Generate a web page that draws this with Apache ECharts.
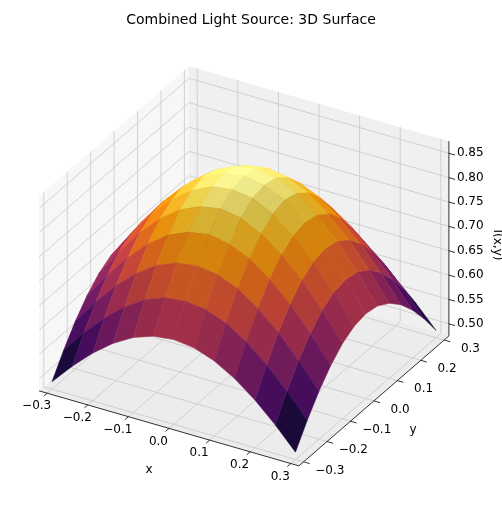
<!DOCTYPE html>
<html><head><meta charset="utf-8">
<script src="https://cdn.jsdelivr.net/npm/echarts@6/dist/echarts.min.js"></script>
<style>html,body{margin:0;padding:0;background:#fff}#c{width:502px;height:506px}</style>
</head><body><div id="c"></div>
<script>
const xs = [-0.3,-0.25,-0.2,-0.15,-0.1,-0.05,0,0.05,0.1,0.15,0.2,0.25,0.3];
const ys = [-0.3,-0.25,-0.2,-0.15,-0.1,-0.05,0,0.05,0.1,0.15,0.2,0.25,0.3];
const zRows = [
[0.490,0.534,0.573,0.605,0.629,0.644,0.649,0.644,0.629,0.605,0.573,0.534,0.490],
[0.534,0.582,0.624,0.659,0.686,0.702,0.707,0.702,0.686,0.659,0.624,0.582,0.534],
[0.573,0.624,0.670,0.707,0.736,0.753,0.759,0.753,0.736,0.707,0.670,0.624,0.573],
[0.605,0.659,0.707,0.747,0.777,0.795,0.802,0.795,0.777,0.747,0.707,0.659,0.605],
[0.629,0.686,0.736,0.777,0.808,0.827,0.834,0.827,0.808,0.777,0.736,0.686,0.629],
[0.644,0.702,0.753,0.795,0.827,0.847,0.853,0.847,0.827,0.795,0.753,0.702,0.644],
[0.649,0.707,0.759,0.802,0.834,0.853,0.860,0.853,0.834,0.802,0.759,0.707,0.649],
[0.644,0.702,0.753,0.795,0.827,0.847,0.853,0.847,0.827,0.795,0.753,0.702,0.644],
[0.629,0.686,0.736,0.777,0.808,0.827,0.834,0.827,0.808,0.777,0.736,0.686,0.629],
[0.605,0.659,0.707,0.747,0.777,0.795,0.802,0.795,0.777,0.747,0.707,0.659,0.605],
[0.573,0.624,0.670,0.707,0.736,0.753,0.759,0.753,0.736,0.707,0.670,0.624,0.573],
[0.534,0.582,0.624,0.659,0.686,0.702,0.707,0.702,0.686,0.659,0.624,0.582,0.534],
[0.490,0.534,0.573,0.605,0.629,0.644,0.649,0.644,0.629,0.605,0.573,0.534,0.490]
];
const xTicks = [-0.3,-0.2,-0.1,0.0,0.1,0.2,0.3];
const yTicks = [-0.3,-0.2,-0.1,0.0,0.1,0.2,0.3];
const zTicks = [0.50,0.55,0.60,0.65,0.70,0.75,0.80,0.85];

const XL=[-0.32,0.32], YL=[-0.32,0.32], ZL=[0.475,0.875];
function norm(x,y,z){return [(x-(XL[0]+XL[1])/2)/(XL[1]-XL[0]),(y-(YL[0]+YL[1])/2)/(YL[1]-YL[0]),(z-(ZL[0]+ZL[1])/2)/(ZL[1]-ZL[0])*0.75];}
function proj(x,y,z){const [u,v,w]=norm(x,y,z);
  return {px:244+300*(0.866*u+0.5*v), py:266-300*(-0.25*u+0.433*v+0.866*w), d:0.433*u-0.75*v+0.5*w};}
const inferno=[[0,0,4],[22,11,57],[66,10,104],[106,23,110],[147,38,103],[188,55,84],[221,81,58],[243,120,25],[252,165,10],[246,215,70],[252,255,164]];
function cmap(t,s){t=Math.max(0,Math.min(1,t));const f=t*10,i=Math.min(9,Math.floor(f)),r=f-i;
  const c=inferno[i].map((a,k)=>Math.round(Math.min(255,(a+(inferno[i+1][k]-a)*r)*s)));return 'rgb('+c.join(',')+')';}

const zmin=0.490,zmax=0.860;
const quads=[];
for(let i=0;i<ys.length-1;i++)for(let j=0;j<xs.length-1;j++){
  const pts=[[xs[j],ys[i],zRows[i][j]],[xs[j+1],ys[i],zRows[i][j+1]],[xs[j+1],ys[i+1],zRows[i+1][j+1]],[xs[j],ys[i+1],zRows[i+1][j]]];
  const zm=(pts[0][2]+pts[1][2]+pts[2][2]+pts[3][2])/4;
  const a=norm(...pts[0]),b=norm(...pts[2]),c=norm(...pts[1]),e=norm(...pts[3]);
  const d1=[b[0]-a[0],b[1]-a[1],b[2]-a[2]],d2=[e[0]-c[0],e[1]-c[1],e[2]-c[2]];
  let n=[d1[1]*d2[2]-d1[2]*d2[1],d1[2]*d2[0]-d1[0]*d2[2],d1[0]*d2[1]-d1[1]*d2[0]];
  const nl=Math.hypot(...n);n=n.map(q=>q/nl);if(n[2]<0)n=n.map(q=>-q);
  const L=[-0.5,0.5,0.707];const dot=n[0]*L[0]+n[1]*L[1]+n[2]*L[2];
  const shade=Math.min(1.08,Math.max(0.85,1.0+0.35*(dot-0.7)));
  const depth=pts.reduce((s,p)=>s+proj(...p).d,0)/4;
  quads.push({pts,zm,shade,depth});
}
quads.sort((a,b)=>a.depth-b.depth);
const surfData=quads.map((q,k)=>[k]);

function poly(api,pts3,style){return {type:'polygon',shape:{points:pts3.map(p=>{const r=proj(...p);return api.coord([r.px,r.py]);})},style};}
function line(api,a,b,style){const p=proj(...a),q=proj(...b);const A=api.coord([p.px,p.py]),B=api.coord([q.px,q.py]);
  return {type:'line',shape:{x1:A[0],y1:A[1],x2:B[0],y2:B[1]},style};}

const gridStyle={stroke:'#c8c8c8',lineWidth:0.8};
function renderBox(params,api){
  const ch=[];
  ch.push(poly(api,[[XL[0],YL[0],ZL[0]],[XL[0],YL[1],ZL[0]],[XL[0],YL[1],ZL[1]],[XL[0],YL[0],ZL[1]]],{fill:'#f7f7f7'}));
  ch.push(poly(api,[[XL[0],YL[1],ZL[0]],[XL[1],YL[1],ZL[0]],[XL[1],YL[1],ZL[1]],[XL[0],YL[1],ZL[1]]],{fill:'#f0f0f0'}));
  ch.push(poly(api,[[XL[0],YL[0],ZL[0]],[XL[1],YL[0],ZL[0]],[XL[1],YL[1],ZL[0]],[XL[0],YL[1],ZL[0]]],{fill:'#ececec'}));
  xTicks.forEach(t=>{ch.push(line(api,[t,YL[0],ZL[0]],[t,YL[1],ZL[0]],gridStyle));ch.push(line(api,[t,YL[1],ZL[0]],[t,YL[1],ZL[1]],gridStyle));});
  yTicks.forEach(t=>{ch.push(line(api,[XL[0],t,ZL[0]],[XL[1],t,ZL[0]],gridStyle));ch.push(line(api,[XL[0],t,ZL[0]],[XL[0],t,ZL[1]],gridStyle));});
  zTicks.forEach(t=>{ch.push(line(api,[XL[0],YL[0],t],[XL[0],YL[1],t],gridStyle));ch.push(line(api,[XL[0],YL[1],t],[XL[1],YL[1],t],gridStyle));});
  const ax={stroke:'#000',lineWidth:0.8};
  ch.push(line(api,[XL[0],YL[0],ZL[0]],[XL[1],YL[0],ZL[0]],ax));
  ch.push(line(api,[XL[1],YL[0],ZL[0]],[XL[1],YL[1],ZL[0]],ax));
  ch.push(line(api,[XL[1],YL[1],ZL[0]],[XL[1],YL[1],ZL[1]],ax));
  const lab={fill:'#000',font:'12px "DejaVu Sans"'};
  xTicks.forEach(t=>{ch.push(line(api,[t,YL[0],ZL[0]],[t,YL[0]-0.015,ZL[0]],ax));const p=proj(t,YL[0]-0.045,ZL[0]);const c=api.coord([p.px,p.py]);
    ch.push({type:'text',x:c[0],y:c[1]+4,style:Object.assign({text:t.toFixed(1).replace('-','−'),align:'center',verticalAlign:'middle'},lab)});});
  yTicks.forEach(t=>{ch.push(line(api,[XL[1],t,ZL[0]],[XL[1]+0.015,t,ZL[0]],ax));const p=proj(XL[1]+0.04,t,ZL[0]);const c=api.coord([p.px,p.py]);
    ch.push({type:'text',x:c[0]+10,y:c[1]+4,style:Object.assign({text:t.toFixed(1).replace('-','−'),align:'center',verticalAlign:'middle'},lab)});});
  zTicks.forEach(t=>{ch.push(line(api,[XL[1],YL[1],t],[XL[1]+0.015,YL[1],t],ax));const p=proj(XL[1],YL[1],t);const c=api.coord([p.px,p.py]);
    ch.push({type:'text',x:c[0]+8,y:c[1],style:Object.assign({text:t.toFixed(2),align:'left',verticalAlign:'middle'},lab)});});
  ch.push({type:'text',x:149,y:470,style:Object.assign({text:'x',align:'center',verticalAlign:'middle'},lab)});
  ch.push({type:'text',x:413,y:430,style:Object.assign({text:'y',align:'center',verticalAlign:'middle'},lab)});
  ch.push({type:'text',x:497,y:245,rotation:-Math.PI/2,style:Object.assign({text:'I(x,y)',align:'center',verticalAlign:'middle'},lab)});
  return {type:'group',children:ch};
}
function renderSurf(params,api){
  const q=quads[api.value(0)];
  const col=cmap((q.zm-zmin)/(zmax-zmin),q.shade);
  return poly(api,q.pts,{fill:col,stroke:col,lineWidth:0.5});
}
const chart=echarts.init(document.getElementById('c'),null,{renderer:'canvas'});
chart.setOption({
  animation:false,
  title:{text:'Combined Light Source: 3D Surface',left:'center',top:8,textStyle:{fontFamily:'DejaVu Sans',fontSize:14,fontWeight:'normal',color:'#000'}},
  grid:{left:0,right:0,top:0,bottom:0},
  xAxis:{type:'value',min:0,max:502,show:false},
  yAxis:{type:'value',min:0,max:506,inverse:true,show:false},
  series:[
    {type:'custom',renderItem:renderBox,data:[[0]],silent:true,clip:false,z:1},
    {type:'custom',renderItem:renderSurf,data:surfData,silent:true,clip:false,z:2}
  ]
});
</script></body></html>
